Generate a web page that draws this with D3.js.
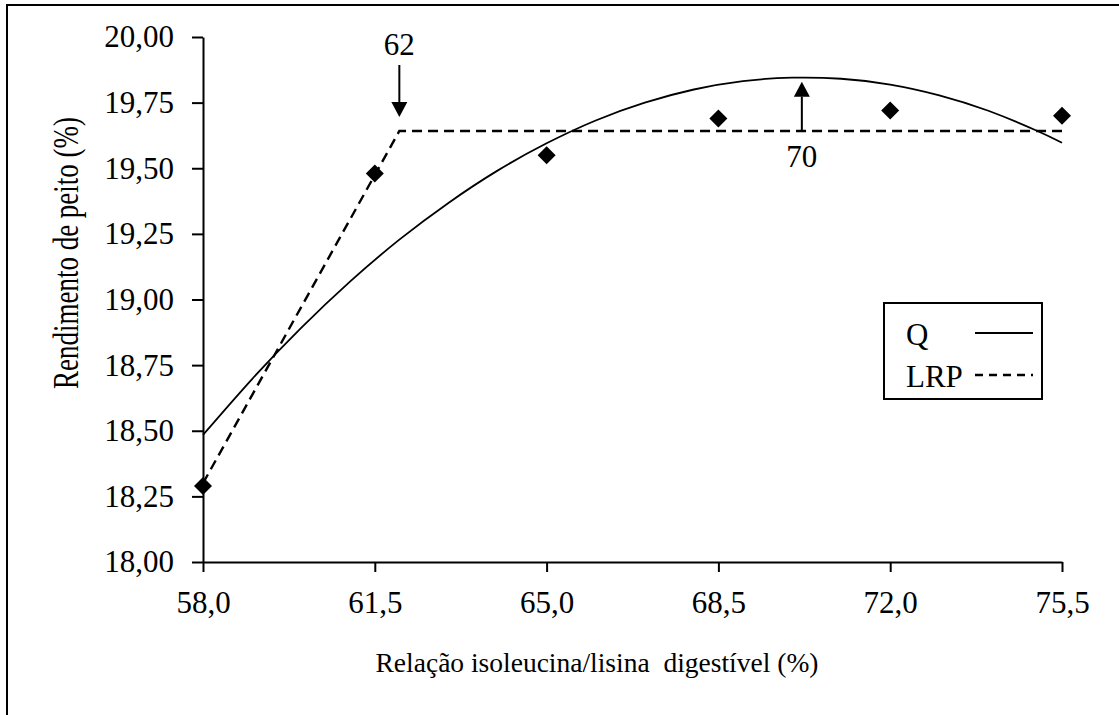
<!DOCTYPE html>
<html>
<head>
<meta charset="utf-8">
<script src="https://cdn.jsdelivr.net/npm/d3@7"></script>
<style>
  body { margin: 0; background: #fff; }
  svg { display: block; }
  svg text { font-family: "Liberation Serif", "DejaVu Serif", "Times New Roman", serif !important; fill: #000; }
</style>
</head>
<body>
<svg id="chart" width="1119" height="715"></svg>
<script>
// Isoleucine:lysine ratio levels and observed breast yield
const levels   = [58.0, 61.5, 65.0, 68.5, 72.0, 75.5];
const observed = [18.29, 19.48, 19.55, 19.69, 19.72, 19.70];

// Quadratic response (Q), sampled along the ratio axis
const quadX = [58.0, 59.0, 60.0, 61.0, 62.0, 63.0, 64.0, 65.0, 66.0, 67.0, 68.0, 69.0, 70.0, 71.0, 72.0, 73.0, 74.0, 75.0, 75.5];
const quadY = [18.484, 18.697, 18.892, 19.069, 19.228, 19.368, 19.491, 19.595, 19.682, 19.750, 19.800, 19.832, 19.845, 19.841, 19.819, 19.778, 19.719, 19.642, 19.597];

// Linear response plateau (LRP)
const lrpX = [58.0, 62.0, 75.5];
const lrpY = [18.30, 19.642, 19.642];

// Estimated requirements marked with arrows
const optimumLabels = ["62", "70"];
const optimumX      = [62.0, 70.2];

const yTicks = [18.00, 18.25, 18.50, 18.75, 19.00, 19.25, 19.50, 19.75, 20.00];
const xTicks = levels;

const legendNames = ["Q", "LRP"];

const svg = d3.select("#chart");
const x = d3.scaleLinear().domain([58.0, 75.5]).range([203, 1062]);
const y = d3.scaleLinear().domain([18.0, 20.0]).range([562, 37]);
const comma = f => v => d3.format(f)(v).replace(".", ",");

// outer frame
svg.append("rect")
  .attr("x", 7).attr("y", 5).attr("width", 1140).attr("height", 740)
  .attr("fill", "none").attr("stroke", "#000").attr("stroke-width", 2);

// axes
const yAxis = svg.append("g").attr("transform", `translate(${x(58)},0)`)
  .call(d3.axisLeft(y).tickValues(yTicks).tickFormat(comma(".2f")).tickSize(11).tickSizeOuter(0).tickPadding(18));
const xAxis = svg.append("g").attr("transform", `translate(0,${y(18)})`)
  .call(d3.axisBottom(x).tickValues(xTicks).tickFormat(comma(".1f")).tickSize(10).tickSizeOuter(0).tickPadding(19));
[yAxis, xAxis].forEach(g => {
  g.attr("font-family", null).attr("font-size", null);
  g.selectAll("path.domain").attr("stroke", "#000").attr("stroke-width", 2);
  g.selectAll(".tick line").attr("stroke", "#000").attr("stroke-width", 2);
  g.selectAll(".tick text").style("font-size", "31px").attr("fill", "#000");
});
xAxis.selectAll(".tick text").attr("dy", "0.71em");

// axis titles
svg.append("text")
  .attr("x", 597).attr("y", 672).attr("text-anchor", "middle")
  .style("font-size", "27.5px")
  .text("Relação isoleucina/lisina\u00a0\u00a0digestível (%)");
// condensed vertical title
svg.append("text")
  .attr("transform", "translate(78,253) rotate(-90) scale(0.75,1)")
  .attr("text-anchor", "middle")
  .style("font-size", "36px")
  .text("Rendimento de peito (%)");

// response curves
svg.append("path")
  .attr("d", d3.line().x(d => x(d[0])).y(d => y(d[1])).curve(d3.curveNatural)(d3.zip(quadX, quadY)))
  .attr("fill", "none").attr("stroke", "#000").attr("stroke-width", 1.8);
svg.append("path")
  .attr("d", d3.line().x(d => x(d[0])).y(d => y(d[1]))(d3.zip(lrpX, lrpY)))
  .attr("fill", "none").attr("stroke", "#000").attr("stroke-width", 2.4)
  .attr("stroke-dasharray", "10,6");

// observed means
svg.append("g").selectAll("path")
  .data(d3.zip(levels, observed))
  .join("path")
  .attr("transform", d => `translate(${x(d[0])},${y(d[1])})`)
  .attr("d", "M0,-9L9,0L0,9L-9,0Z")
  .attr("fill", "#000");

// arrows marking the estimated requirements
const plateau = lrpY[1];
const peak = d3.max(quadY);
function arrow(xp, yFrom, yTip) {
  const dir = Math.sign(yTip - yFrom);
  const head = 15, half = 8;
  svg.append("line")
    .attr("x1", xp).attr("x2", xp).attr("y1", yFrom).attr("y2", yTip - dir * head)
    .attr("stroke", "#000").attr("stroke-width", 2);
  svg.append("path")
    .attr("d", `M${xp},${yTip}L${xp - half},${yTip - dir * head}L${xp + half},${yTip - dir * head}Z`)
    .attr("fill", "#000");
}
// LRP break: arrow pointing down onto the plateau corner
arrow(x(optimumX[0]), y(plateau) - 66, y(plateau) - 14);
svg.append("text").attr("x", x(optimumX[0])).attr("y", y(plateau) - 76)
  .attr("text-anchor", "middle").style("font-size", "31px").text(optimumLabels[0]);
// Q maximum: arrow rising from the plateau to the top of the curve
arrow(x(optimumX[1]), y(plateau), y(peak) + 4);
svg.append("text").attr("x", x(optimumX[1])).attr("y", y(plateau) + 36)
  .attr("text-anchor", "middle").style("font-size", "31px").text(optimumLabels[1]);

// legend
const lg = svg.append("g");
lg.append("rect").attr("x", 884).attr("y", 303).attr("width", 158).attr("height", 96)
  .attr("fill", "#fff").attr("stroke", "#000").attr("stroke-width", 2);
const rows = [333, 375];
legendNames.forEach((name, i) => {
  lg.append("text").attr("x", 906).attr("y", rows[i] + 12).style("font-size", "31px").text(name);
  lg.append("line").attr("x1", 975).attr("x2", 1033).attr("y1", rows[i]).attr("y2", rows[i])
    .attr("stroke", "#000").attr("stroke-width", i === 0 ? 2 : 2.4)
    .attr("stroke-dasharray", i === 0 ? null : "8,6");
});
</script>
</body>
</html>
